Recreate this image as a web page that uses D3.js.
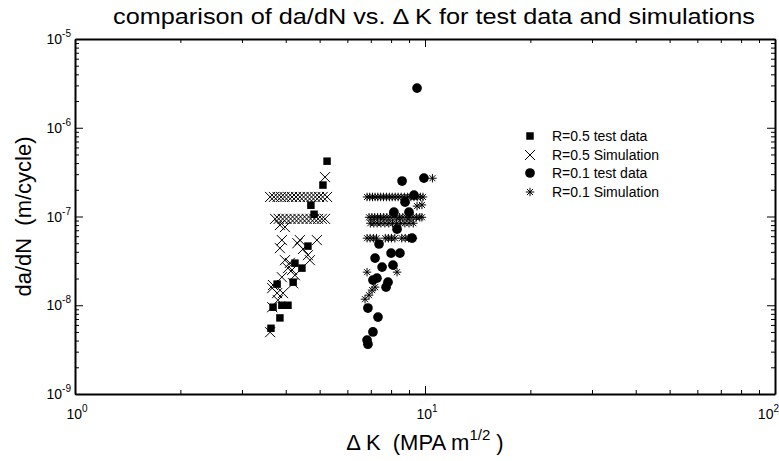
<!DOCTYPE html>
<html>
<head>
<meta charset="utf-8">
<script src="https://cdn.jsdelivr.net/npm/d3@7"></script>
<style>
    body { margin: 0; background: #fff; }
    text { font-family: "Liberation Sans", Arial, sans-serif; fill: #000; white-space: pre; }
    .axis path, .axis line { stroke: #000; }
</style>
</head>
<body>
<div id="chart"></div>
<script>

// ---- data ----
const xMajor = [1, 10, 100];
const xMajorExp = ["0", "1", "2"];
const yMajor = [1e-9, 1e-8, 1e-7, 1e-6, 1e-5];
const yMajorExp = ["-9", "-8", "-7", "-6", "-5"];

const legendLabels = ["R=0.5 test data", "R=0.5 Simulation", "R=0.1 test data", "R=0.1 Simulation"];

// R=0.5 test data (squares)
const r05TestDK   = [5.25, 5.11, 4.72, 4.82, 4.63, 4.25, 4.45, 3.78, 4.20, 3.68, 3.90, 4.06, 3.85, 3.63];
const r05TestRate = [4.2e-7, 2.26e-7, 1.34e-7, 1.06e-7, 4.64e-8, 2.98e-8, 2.62e-8, 1.73e-8, 1.82e-8, 9.5e-9, 1.0e-8, 1.0e-8, 7.2e-9, 5.5e-9];

// R=0.5 simulation (crosses)
const r05SimDK = [
    3.61, 3.70, 3.79, 3.88, 3.97, 4.07, 4.17, 4.28, 4.39, 4.50, 4.62, 4.74, 4.86, 4.98, 5.10, 5.25,
    3.73, 3.82, 3.92, 4.02, 4.13, 4.24, 4.35, 4.47, 4.59, 4.71, 4.83, 4.95, 5.07, 5.18,
    3.85, 3.98,
    5.18, 3.90, 4.39, 4.91, 3.85, 4.32, 4.48, 4.63, 4.69, 3.98, 4.11, 4.06, 4.17, 3.90, 4.25,
    3.68, 4.20, 3.66, 3.78, 3.93, 3.80, 3.66, 3.61
];
const r05SimRate = [
    1.66e-7, 1.66e-7, 1.66e-7, 1.66e-7, 1.66e-7, 1.66e-7, 1.66e-7, 1.66e-7, 1.66e-7, 1.66e-7, 1.66e-7, 1.66e-7, 1.66e-7, 1.66e-7, 1.66e-7, 1.66e-7,
    9.4e-8, 9.4e-8, 9.4e-8, 9.4e-8, 9.4e-8, 9.4e-8, 9.4e-8, 9.4e-8, 9.4e-8, 9.4e-8, 9.4e-8, 9.4e-8, 9.4e-8, 9.4e-8,
    8.0e-8, 7.6e-8,
    2.78e-7, 5.42e-8, 5.42e-8, 5.42e-8, 4.4e-8, 5.0e-8, 4.3e-8, 3.67e-8, 3.22e-8, 3.22e-8, 3.0e-8, 2.62e-8, 2.5e-8, 2.07e-8, 2.18e-8,
    1.69e-8, 1.77e-8, 1.56e-8, 1.37e-8, 1.37e-8, 1.14e-8, 9.5e-9, 4.97e-9
];

// R=0.1 test data (circles)
const r01TestDK   = [9.49, 8.60, 9.93, 9.30, 8.77, 8.15, 9.00, 8.32, 9.18, 7.39, 7.20, 8.00, 8.48, 7.54, 8.10, 7.10, 7.29, 7.84, 7.74, 6.87, 7.34, 7.10, 6.83, 6.87];
const r01TestRate = [2.8e-6, 2.51e-7, 2.71e-7, 1.74e-7, 1.45e-7, 1.12e-7, 1.12e-7, 7.2e-8, 5.7e-8, 4.9e-8, 3.4e-8, 3.87e-8, 3.87e-8, 2.69e-8, 2.83e-8, 1.92e-8, 2.02e-8, 1.82e-8, 1.6e-8, 9.3e-9, 7.35e-9, 5.0e-9, 4.05e-9, 3.64e-9];

// R=0.1 simulation (asterisks)
const r01SimDK = [
    6.83, 6.95, 7.08, 7.20, 7.33, 7.47, 7.61, 7.76, 7.91, 8.06, 8.22, 8.38, 8.55, 8.73, 8.92, 9.11, 9.30, 9.50, 9.70, 9.87,
    6.92, 7.05, 7.18, 7.32, 7.46, 7.62, 7.78, 7.94, 8.10, 8.28, 8.46, 8.64, 8.84, 9.04, 9.24, 9.45, 9.66, 9.80,
    6.98, 7.14, 7.30, 7.48, 7.68, 7.88, 8.08, 8.30, 8.52, 8.76, 9.00, 9.26,
    6.83, 6.97, 7.12, 7.27, 7.70, 7.86, 8.02, 8.20, 8.58, 8.78, 8.98, 9.24,
    9.49, 9.80, 10.5, 6.83, 8.32, 7.20, 7.06, 6.92, 6.74
];
const r01SimRate = [
    1.66e-7, 1.66e-7, 1.66e-7, 1.66e-7, 1.66e-7, 1.66e-7, 1.66e-7, 1.66e-7, 1.66e-7, 1.66e-7, 1.66e-7, 1.66e-7, 1.66e-7, 1.66e-7, 1.66e-7, 1.66e-7, 1.66e-7, 1.66e-7, 1.66e-7, 1.66e-7,
    9.8e-8, 9.8e-8, 9.8e-8, 9.8e-8, 9.8e-8, 9.8e-8, 9.8e-8, 9.8e-8, 9.8e-8, 9.8e-8, 9.8e-8, 9.8e-8, 9.8e-8, 9.8e-8, 9.8e-8, 9.8e-8, 9.8e-8, 9.8e-8,
    8.4e-8, 8.4e-8, 8.4e-8, 8.4e-8, 8.4e-8, 8.4e-8, 8.4e-8, 8.4e-8, 8.4e-8, 8.4e-8, 8.4e-8, 8.4e-8,
    5.7e-8, 5.7e-8, 5.7e-8, 5.7e-8, 5.7e-8, 5.7e-8, 5.7e-8, 5.7e-8, 5.7e-8, 5.7e-8, 5.7e-8, 5.7e-8,
    1.31e-7, 1.35e-7, 2.7e-7, 2.36e-8, 2.36e-8, 1.6e-8, 1.48e-8, 1.3e-8, 1.17e-8
];

// 8-armed star like the plotting package uses
const symbolStar = {
    draw: function(context, size) {
        let r = Math.sqrt(size) / 2, q = r * 0.7071;
        context.moveTo(0, -r); context.lineTo(0, r);
        context.moveTo(-r, 0); context.lineTo(r, 0);
        context.moveTo(-q, -q); context.lineTo(q, q);
        context.moveTo(-q, q); context.lineTo(q, -q);
    }
};


class FatigueChart {

    constructor(parentElement) {
        this.parentElement = parentElement;
    }

    initVis() {
        let vis = this;

        vis.margin = {top: 39, right: 4, bottom: 67, left: 75};
        vis.width = 779 - vis.margin.left - vis.margin.right;
        vis.height = 461 - vis.margin.top - vis.margin.bottom;

        vis.root = d3.select("#" + vis.parentElement).append("svg")
            .attr("width", 779)
            .attr("height", 461);

        vis.svg = vis.root.append("g")
            .attr("transform", "translate(" + vis.margin.left + "," + vis.margin.top + ")");

        // log scales
        vis.x = d3.scaleLog().domain([1, 100]).range([0, vis.width]);
        vis.y = d3.scaleLog().domain([1e-9, 1e-5]).range([vis.height, 0]);

        vis.series = [
            {dk: r05TestDK, rate: r05TestRate, sym: d3.symbolSquare, size: 56, fill: true},
            {dk: r05SimDK, rate: r05SimRate, sym: d3.symbolTimes, size: 68, fill: false},
            {dk: r01TestDK, rate: r01TestRate, sym: d3.symbolCircle, size: 74, fill: true},
            {dk: r01SimDK, rate: r01SimRate, sym: symbolStar, size: 72, fill: false}
        ];

        vis.drawAxes();
        vis.updateVis();
    }

    drawAxes() {
        let vis = this;

        let minorX = [], minorY = [];
        [1, 10].forEach(function(d) {
            for (let i = 2; i < 10; i++) minorX.push(d * i);
        });
        [1e-9, 1e-8, 1e-7, 1e-6].forEach(function(d) {
            for (let i = 2; i < 10; i++) minorY.push(d * i);
        });

        let axes = [
            {gen: d3.axisBottom, scale: vis.x, major: xMajor, minor: minorX, tr: "translate(0," + vis.height + ")"},
            {gen: d3.axisTop, scale: vis.x, major: xMajor, minor: minorX, tr: "translate(0,0)"},
            {gen: d3.axisLeft, scale: vis.y, major: yMajor, minor: minorY, tr: "translate(0,0)"},
            {gen: d3.axisRight, scale: vis.y, major: yMajor, minor: minorY, tr: "translate(" + vis.width + ",0)"}
        ];

        axes.forEach(function(a) {
            let gMinor = vis.svg.append("g").attr("class", "axis").attr("transform", a.tr)
                .call(a.gen(a.scale).tickValues(a.minor).tickSize(-4).tickSizeOuter(0).tickFormat(""));
            gMinor.select(".domain").remove();
            gMinor.selectAll("line").attr("stroke-width", 1);

            let gMajor = vis.svg.append("g").attr("class", "axis").attr("transform", a.tr)
                .call(a.gen(a.scale).tickValues(a.major).tickSize(-8).tickSizeOuter(0).tickFormat(""));
            gMajor.select(".domain").attr("stroke-width", 2);
            gMajor.selectAll("line").attr("stroke-width", 1);
        });

        // tick labels with superscript exponents
        vis.svg.selectAll(".xlab").data(xMajor).enter().append("text")
            .attr("class", "xlab")
            .attr("x", function(d, i) { return i == xMajor.length - 1 ? 779 - vis.margin.left : vis.x(d) + 2; })
            .attr("y", vis.height + 25)
            .attr("text-anchor", function(d, i) { return i == xMajor.length - 1 ? "end" : "middle"; })
            .attr("font-size", 14)
            .each(function(d, i) {
                let t = d3.select(this);
                t.append("tspan").text("10");
                t.append("tspan").attr("dy", -7).attr("font-size", 10).text(xMajorExp[i]);
            });

        vis.svg.selectAll(".ylab").data(yMajor).enter().append("text")
            .attr("class", "ylab")
            .attr("x", -4)
            .attr("y", function(d) { return vis.y(d) + 5; })
            .attr("text-anchor", "end")
            .attr("font-size", 14)
            .each(function(d, i) {
                let t = d3.select(this);
                t.append("tspan").text("10");
                t.append("tspan").attr("dy", -7).attr("font-size", 10).text(yMajorExp[i]);
            });

        // title and axis titles
        vis.root.append("text")
            .attr("x", 434).attr("y", 24)
            .attr("text-anchor", "middle")
            .attr("font-size", 22)
            .attr("textLength", 642)
            .attr("lengthAdjust", "spacingAndGlyphs")
            .text("comparison of da/dN vs. \u0394 K for test data and simulations");

        let xt = vis.root.append("text")
            .attr("x", 425).attr("y", 450)
            .attr("text-anchor", "middle")
            .attr("font-size", 22);
        xt.append("tspan").text("\u0394 K  (MPA m");
        xt.append("tspan").attr("dy", -10).attr("font-size", 15).text("1/2");
        xt.append("tspan").attr("dy", 10).text(" )");

        vis.root.append("text")
            .attr("transform", "translate(31," + (vis.margin.top + vis.height / 2) + ") rotate(-90)")
            .attr("text-anchor", "middle")
            .attr("font-size", 22)
            .text("da/dN  (m/cycle)");
    }

    updateVis() {
        let vis = this;

        vis.series.forEach(function(s) {
            let pts = s.dk.map(function(d, i) { return {dk: d, rate: s.rate[i]}; });
            vis.svg.append("g").selectAll("path")
                .data(pts).enter().append("path")
                .attr("transform", function(d) { return "translate(" + vis.x(d.dk) + "," + vis.y(d.rate) + ")"; })
                .attr("d", d3.symbol().type(s.sym).size(s.size))
                .attr("fill", s.fill ? "#000" : "none")
                .attr("stroke", s.fill ? "none" : "#000")
                .attr("stroke-width", 1);
        });

        // legend
        let legend = vis.root.append("g").attr("transform", "translate(530,136)");
        let rows = legend.selectAll("g").data(vis.series).enter().append("g")
            .attr("transform", function(d, i) { return "translate(0," + [0, 19, 37, 56][i] + ")"; });
        rows.append("path")
            .attr("d", function(s) { return d3.symbol().type(s.sym).size(s.size)(); })
            .attr("fill", function(s) { return s.fill ? "#000" : "none"; })
            .attr("stroke", function(s) { return s.fill ? "none" : "#000"; });
        rows.append("text")
            .attr("x", 22).attr("y", 5)
            .attr("font-size", 14)
            .text(function(d, i) { return legendLabels[i]; });
    }
}

let chart = new FatigueChart("chart");
chart.initVis();

</script>
</body>
</html>
